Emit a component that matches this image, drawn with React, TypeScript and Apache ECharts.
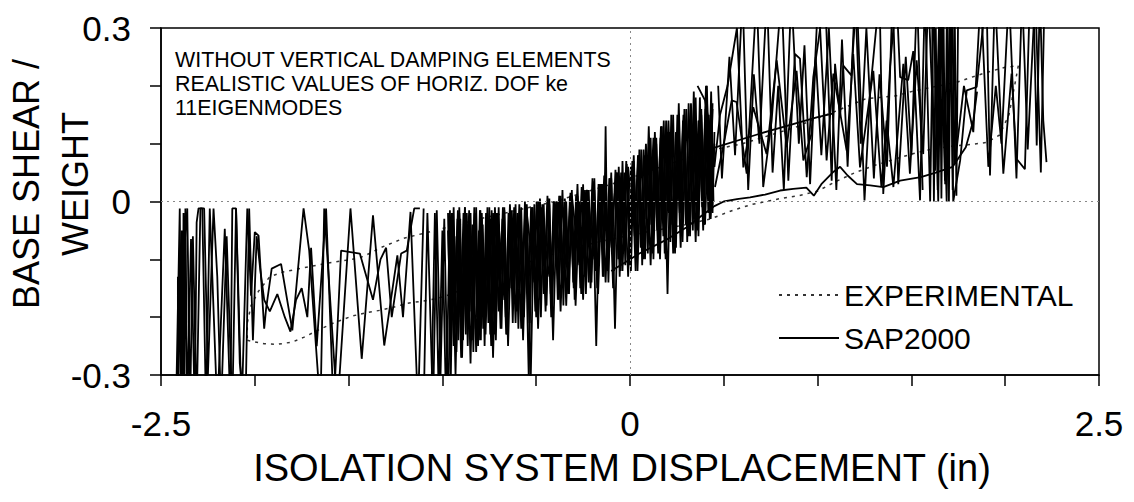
import React, { useEffect, useRef } from 'react';
import * as echarts from 'echarts';

const FONT = '"Liberation Sans", Arial, Helvetica, sans-serif';

const xTickLabels = ['-2.5', '0', '2.5'];
const yTickLabels = ['-0.3', '0', '0.3'];
const seriesNames = ['EXPERIMENTAL', 'SAP2000'];
const xAxisTitle = 'ISOLATION SYSTEM DISPLACEMENT (in)';
const yAxisTitle = ['BASE SHEAR /', 'WEIGHT'];
const noteLines = ['WITHOUT VERTICAL DAMPING ELEMENTS', 'REALISTIC VALUES OF HORIZ. DOF ke', '11EIGENMODES'];

// EXPERIMENTAL hysteresis loop (dotted)
const expLower = [
  [-2.04, -0.24], [-1.95, -0.246], [-1.88, -0.247], [-1.8, -0.243], [-1.74, -0.235], [-1.66, -0.222],
  [-1.58, -0.21], [-1.48, -0.198], [-1.4, -0.192], [-1.33, -0.188], [-1.25, -0.182], [-1.19, -0.176],
  [-1.1, -0.172], [-1.03, -0.168], [-0.95, -0.16], [-0.85, -0.145], [-0.7, -0.125], [-0.5, -0.1],
  [-0.3, -0.08], [-0.1, -0.065], [0.1, -0.052], [0.3, -0.04], [0.43, -0.03], [0.55, -0.015],
  [0.65, -0.005], [0.8, 0.005], [0.9, 0.01], [1.0, 0.018], [1.1, 0.035], [1.2, 0.05], [1.3, 0.062],
  [1.4, 0.072], [1.5, 0.082], [1.6, 0.09], [1.7, 0.095], [1.8, 0.098], [1.9, 0.102], [1.97, 0.115],
  [2.02, 0.15], [2.05, 0.2], [2.07, 0.235]
];
const expUpper = [
  [2.07, 0.235], [2.0, 0.232], [1.92, 0.225], [1.85, 0.218], [1.74, 0.206], [1.6, 0.197], [1.5, 0.19],
  [1.42, 0.183], [1.33, 0.18], [1.26, 0.178], [1.17, 0.166], [1.08, 0.154], [0.98, 0.142], [0.88, 0.128],
  [0.75, 0.115], [0.6, 0.1], [0.45, 0.09], [0.3, 0.075], [0.15, 0.058], [0.0, 0.04], [-0.2, 0.02],
  [-0.4, 0.0], [-0.6, -0.015], [-0.8, -0.03], [-0.98, -0.045], [-1.1, -0.055], [-1.21, -0.064],
  [-1.33, -0.08], [-1.42, -0.095], [-1.48, -0.1], [-1.62, -0.107], [-1.76, -0.116], [-1.85, -0.122],
  [-1.92, -0.13], [-1.98, -0.155], [-2.02, -0.18], [-2.04, -0.21], [-2.04, -0.24]
];

// SAP2000 traces (solid)
const sapLeftA = [
  [-1.1, -0.012], [-1.13, -0.36], [-1.17, -0.018], [-1.21, -0.2], [-1.24, -0.093], [-1.31, -0.249],
  [-1.37, -0.024], [-1.43, -0.272], [-1.49, -0.012], [-1.56, -0.36], [-1.63, -0.012], [-1.65, -0.36],
  [-1.71, -0.085], [-1.74, -0.012], [-1.8, -0.223], [-1.86, -0.108], [-1.91, -0.116], [-1.94, -0.186],
  [-1.95, -0.22], [-1.98, -0.059], [-2.0, -0.053], [-2.02, -0.163], [-2.04, -0.012], [-2.07, -0.36],
  [-2.1, -0.012], [-2.12, -0.012], [-2.13, -0.36], [-2.16, -0.047], [-2.2, -0.36], [-2.23, -0.099],
  [-2.24, -0.012], [-2.26, -0.36], [-2.28, -0.012], [-2.3, -0.012], [-2.31, -0.036], [-2.32, -0.36],
  [-2.34, -0.065], [-2.36, -0.36], [-2.37, -0.012], [-2.375, -0.36], [-2.38, -0.02], [-2.385, -0.36],
  [-2.39, -0.05], [-2.395, -0.36], [-2.4, -0.08], [-2.41, -0.36], [-2.41, -0.13]
];
const sapLeftB = [
  [-2.42, -0.36], [-2.4, -0.012], [-2.39, -0.36], [-2.38, -0.1], [-2.36, -0.012], [-2.345, -0.36],
  [-2.33, -0.06], [-2.31, -0.36], [-2.29, -0.012], [-2.27, -0.012], [-2.25, -0.3], [-2.22, -0.012],
  [-2.2, -0.13], [-2.18, -0.36], [-2.15, -0.06], [-2.12, -0.36], [-2.1, -0.012], [-2.08, -0.28],
  [-2.05, -0.36], [-2.03, -0.012], [-2.01, -0.24], [-1.99, -0.06], [-1.97, -0.12], [-1.95, -0.17],
  [-1.92, -0.19], [-1.88, -0.16], [-1.84, -0.2], [-1.81, -0.225], [-1.78, -0.17], [-1.75, -0.15],
  [-1.72, -0.2], [-1.7, -0.08], [-1.67, -0.25], [-1.62, -0.012], [-1.58, -0.36], [-1.54, -0.085],
  [-1.44, -0.09], [-1.37, -0.17], [-1.33, -0.1], [-1.3, -0.08], [-1.27, -0.2], [-1.22, -0.09],
  [-1.19, -0.085], [-1.15, -0.012], [-1.12, -0.012]
];
const sapBand1 = [
  [-1.06, -0.36], [-1.04, -0.02], [-1.02, -0.33], [-1.0, -0.05], [-0.98, -0.36], [-0.96, -0.015],
  [-0.94, -0.25], [-0.92, -0.03], [-0.9, -0.27], [-0.88, -0.01], [-0.86, -0.22], [-0.84, -0.04],
  [-0.82, -0.26], [-0.8, -0.015], [-0.78, -0.2], [-0.76, -0.02], [-0.74, -0.25], [-0.72, -0.01],
  [-0.7, -0.19], [-0.68, -0.03], [-0.66, -0.23], [-0.64, -0.005], [-0.62, -0.17], [-0.6, -0.02],
  [-0.58, -0.22], [-0.56, 0.0], [-0.54, -0.3], [-0.52, -0.01], [-0.5, -0.2], [-0.48, 0.005],
  [-0.46, -0.16], [-0.44, 0.01], [-0.42, -0.2], [-0.4, -0.005], [-0.38, -0.17], [-0.36, 0.02],
  [-0.34, -0.18], [-0.32, 0.01], [-0.3, -0.15], [-0.28, 0.03], [-0.26, -0.16], [-0.24, 0.02],
  [-0.22, -0.14], [-0.2, 0.04], [-0.18, -0.25], [-0.16, 0.03], [-0.14, -0.13], [-0.13, 0.13],
  [-0.12, -0.12], [-0.1, 0.05], [-0.08, -0.22], [-0.06, 0.06], [-0.04, -0.12], [-0.02, 0.07],
  [0.0, -0.11], [0.02, 0.08], [0.04, -0.12], [0.06, 0.09], [0.08, -0.1], [0.1, 0.13], [0.12, -0.09],
  [0.14, 0.11], [0.16, -0.1], [0.18, 0.14], [0.2, -0.16], [0.22, 0.15], [0.24, -0.09], [0.26, 0.17],
  [0.28, -0.07], [0.3, 0.16], [0.32, -0.06], [0.34, 0.19], [0.36, -0.05], [0.38, 0.16], [0.4, -0.04],
  [0.42, 0.15], [0.44, -0.02], [0.45, 0.12]
];
const sapBand2 = [
  [0.45, 0.1], [0.43, -0.03], [0.41, 0.18], [0.39, -0.05], [0.37, 0.14], [0.35, -0.07], [0.33, 0.13],
  [0.31, -0.06], [0.29, 0.12], [0.27, -0.08], [0.25, 0.11], [0.23, -0.09], [0.21, 0.12], [0.19, -0.1],
  [0.17, 0.1], [0.15, -0.09], [0.13, 0.09], [0.11, -0.11], [0.09, 0.08], [0.07, -0.1], [0.05, 0.07],
  [0.03, -0.12], [0.01, 0.06], [-0.01, -0.13], [-0.03, 0.05], [-0.05, -0.12], [-0.07, 0.04],
  [-0.09, -0.15], [-0.11, 0.04], [-0.13, -0.14], [-0.15, 0.03], [-0.17, -0.16], [-0.19, 0.02],
  [-0.21, -0.15], [-0.23, 0.01], [-0.25, -0.17], [-0.27, 0.0], [-0.29, -0.18], [-0.31, 0.005],
  [-0.33, -0.16], [-0.35, -0.01], [-0.37, -0.19], [-0.39, 0.0], [-0.41, -0.24], [-0.43, -0.005],
  [-0.45, -0.19], [-0.47, -0.01], [-0.49, -0.22], [-0.51, -0.005], [-0.53, -0.32], [-0.55, -0.01],
  [-0.57, -0.24], [-0.59, -0.005], [-0.61, -0.21], [-0.63, -0.015], [-0.65, -0.25], [-0.67, -0.01],
  [-0.69, -0.22], [-0.71, -0.02], [-0.73, -0.27], [-0.75, -0.01], [-0.77, -0.23], [-0.79, -0.03],
  [-0.81, -0.25], [-0.83, -0.01], [-0.85, -0.28], [-0.87, -0.02], [-0.89, -0.24], [-0.91, -0.01],
  [-0.93, -0.3], [-0.95, -0.02], [-0.97, -0.36], [-0.99, -0.03], [-1.01, -0.3], [-1.03, -0.015],
  [-1.05, -0.36], [-1.08, -0.02], [-1.1, -0.36]
];
const sapBand3 = [
  [-0.97, -0.05], [-0.955, -0.22], [-0.945, -0.04], [-0.935, -0.2], [-0.925, -0.06], [-0.915, -0.24],
  [-0.905, -0.03], [-0.895, -0.21], [-0.885, -0.05], [-0.875, -0.23], [-0.865, -0.04], [-0.855, -0.19],
  [-0.845, -0.06], [-0.835, -0.22], [-0.825, -0.03], [-0.815, -0.2], [-0.805, -0.05], [-0.795, -0.24],
  [-0.785, -0.04], [-0.775, -0.18], [-0.765, -0.06], [-0.755, -0.21], [-0.745, -0.03], [-0.735, -0.19],
  [-0.725, -0.05], [-0.715, -0.2], [-0.7, -0.04], [-0.67, -0.17], [-0.63, -0.03], [-0.59, -0.15],
  [-0.55, -0.02], [-0.51, -0.14], [-0.47, -0.03], [-0.43, -0.13], [-0.39, 0.0], [-0.35, -0.12],
  [-0.31, 0.01], [-0.27, -0.11], [-0.23, 0.02], [-0.19, -0.1], [-0.15, 0.03], [-0.11, -0.08],
  [-0.07, 0.05], [-0.03, -0.07], [0.005, 0.06], [0.025, -0.06], [0.045, 0.08], [0.065, -0.05],
  [0.085, 0.1], [0.105, -0.04], [0.125, 0.11], [0.145, -0.05], [0.165, 0.13], [0.185, -0.03],
  [0.205, 0.14], [0.225, -0.04], [0.245, 0.12], [0.265, -0.02], [0.285, 0.15], [0.305, -0.03],
  [0.325, 0.17], [0.345, -0.02], [0.365, 0.14], [0.385, -0.01], [0.405, 0.2], [0.425, -0.01], [0.44, 0.16]
];
const sapBand4 = [
  [0.44, 0.17], [0.425, -0.03], [0.41, 0.2], [0.395, -0.04], [0.38, 0.15], [0.365, -0.06], [0.35, 0.18],
  [0.335, -0.05], [0.32, 0.14], [0.305, -0.07], [0.29, 0.16], [0.275, -0.06], [0.26, 0.13], [0.245, -0.08],
  [0.23, 0.15], [0.215, -0.07], [0.2, 0.12], [0.185, -0.09], [0.17, 0.13], [0.155, -0.08], [0.14, 0.1],
  [0.125, -0.1], [0.11, 0.11], [0.095, -0.09], [0.08, 0.08], [0.065, -0.11], [0.05, 0.09], [0.035, -0.1],
  [0.02, 0.07], [0.005, -0.12], [-0.01, 0.06], [-0.025, -0.11], [-0.04, 0.07], [-0.055, -0.13],
  [-0.07, 0.05], [-0.085, -0.12], [-0.1, 0.04], [-0.115, -0.14], [-0.13, 0.05], [-0.145, -0.13],
  [-0.16, 0.03], [-0.175, -0.15], [-0.19, 0.04], [-0.205, -0.14], [-0.22, 0.02], [-0.235, -0.16],
  [-0.25, 0.03], [-0.265, -0.15], [-0.28, 0.01], [-0.295, -0.17], [-0.31, 0.02], [-0.325, -0.16],
  [-0.34, 0.0], [-0.355, -0.18], [-0.37, 0.01], [-0.385, -0.17], [-0.4, 0.0], [-0.415, -0.19],
  [-0.43, 0.005], [-0.445, -0.18], [-0.46, -0.005], [-0.475, -0.2], [-0.49, 0.0], [-0.505, -0.19],
  [-0.52, -0.01], [-0.535, -0.21], [-0.55, -0.005], [-0.565, -0.2], [-0.58, -0.01], [-0.595, -0.22],
  [-0.61, -0.005], [-0.625, -0.21], [-0.64, -0.01], [-0.655, -0.23], [-0.67, -0.015], [-0.685, -0.22],
  [-0.7, -0.01], [-0.715, -0.24], [-0.73, -0.02], [-0.745, -0.23], [-0.76, -0.01], [-0.775, -0.25],
  [-0.79, -0.02], [-0.805, -0.24], [-0.82, -0.01], [-0.835, -0.26], [-0.85, -0.02], [-0.865, -0.25],
  [-0.88, -0.01], [-0.895, -0.27], [-0.91, -0.02], [-0.925, -0.26], [-0.94, -0.01], [-0.955, -0.3],
  [-0.97, -0.02]
];
const sapBand5 = [
  [-0.9625, -0.12], [-0.9475, -0.02], [-0.9325, -0.18], [-0.9175, -0.015], [-0.9025, -0.2],
  [-0.8875, -0.02], [-0.8725, -0.16], [-0.8575, -0.015], [-0.8425, -0.24], [-0.8275, -0.02],
  [-0.8125, -0.19], [-0.7975, -0.015], [-0.7825, -0.22], [-0.7675, -0.02], [-0.7525, -0.17],
  [-0.7375, -0.015], [-0.7225, -0.23], [-0.7075, -0.02], [-0.6925, -0.16], [-0.6775, -0.01],
  [-0.6625, -0.2], [-0.6475, -0.02], [-0.6325, -0.15], [-0.6175, -0.01], [-0.6025, -0.19],
  [-0.5875, -0.015], [-0.5725, -0.14], [-0.5575, -0.005], [-0.5425, -0.18], [-0.5275, -0.01],
  [-0.5125, -0.13], [-0.4975, 0.0], [-0.4825, -0.17], [-0.4675, -0.005], [-0.4525, -0.12],
  [-0.4375, 0.005], [-0.4225, -0.16], [-0.4075, 0.0], [-0.3925, -0.11], [-0.3775, 0.01],
  [-0.3625, -0.15], [-0.3475, 0.005], [-0.3325, -0.1], [-0.3175, 0.015], [-0.3025, -0.14],
  [-0.2875, 0.01], [-0.2725, -0.09], [-0.2575, 0.025], [-0.2425, -0.13], [-0.2275, 0.02],
  [-0.2125, -0.08], [-0.1975, 0.035], [-0.1825, -0.12], [-0.1675, 0.03], [-0.1525, -0.07],
  [-0.1375, 0.045], [-0.1225, -0.11], [-0.1075, 0.04], [-0.0925, -0.06], [-0.0775, 0.055],
  [-0.0625, -0.1], [-0.0475, 0.05], [-0.0325, -0.05], [-0.0175, 0.065], [-0.0025, -0.09],
  [0.0125, 0.07], [0.0275, -0.04], [0.0425, 0.08], [0.0575, -0.08], [0.0725, 0.09], [0.0875, -0.03],
  [0.1025, 0.1], [0.1175, -0.07], [0.1325, 0.12], [0.1475, -0.02], [0.1625, 0.11], [0.1775, -0.06],
  [0.1925, 0.14], [0.2075, -0.02], [0.2225, 0.13], [0.2375, -0.05], [0.2525, 0.15], [0.2675, -0.01],
  [0.2825, 0.14], [0.2975, -0.04], [0.3125, 0.17], [0.3275, 0.0], [0.3425, 0.15], [0.3575, -0.03],
  [0.3725, 0.18], [0.3875, 0.01], [0.4025, 0.16], [0.4175, -0.02], [0.4325, 0.19], [0.445, 0.0]
];
const sapLowerBranch = [
  [-0.1, -0.12], [0.05, -0.09], [0.2, -0.065], [0.3, -0.045], [0.38, -0.025], [0.45, -0.008],
  [0.5, 0.0], [0.57, 0.004], [0.64, 0.007], [0.72, 0.012], [0.8, 0.019], [0.87, 0.022], [0.94, 0.024],
  [0.98, 0.01], [1.02, 0.03], [1.08, 0.05], [1.12, 0.06], [1.16, 0.045], [1.21, 0.03], [1.28, 0.028],
  [1.35, 0.025], [1.44, 0.036], [1.55, 0.042], [1.63, 0.05], [1.72, 0.06], [1.79, 0.094], [1.83, 0.14],
  [1.85, 0.19]
];
const sapUpperLine = [[0.42, 0.09], [0.7, 0.118], [1.0, 0.146], [1.08, 0.152]];
const sapRightA = [
  [0.453, 0.025], [0.506, 0.11], [0.542, 0.175], [0.568, 0.172], [0.622, 0.048], [0.675, 0.36],
  [0.71, 0.025], [0.755, 0.14], [0.808, 0.36], [0.844, 0.036], [0.879, 0.255], [0.906, 0.247],
  [0.942, 0.042], [0.977, 0.215], [1.04, 0.36], [1.075, 0.036], [1.093, 0.238], [1.12, 0.146],
  [1.137, 0.235], [1.18, 0.218], [1.208, 0.36], [1.25, 0.002], [1.28, 0.19], [1.33, 0.36],
  [1.35, 0.013], [1.386, 0.232], [1.42, 0.36], [1.44, 0.215], [1.483, 0.21], [1.51, 0.26],
  [1.546, 0.002], [1.572, 0.36], [1.6, 0.0], [1.617, 0.36], [1.643, 0.0], [1.66, 0.36], [1.688, 0.0],
  [1.705, 0.36], [1.723, 0.0], [1.76, 0.071], [1.795, 0.192], [1.848, 0.198], [1.9, 0.36],
  [1.919, 0.045], [1.945, 0.36], [1.99, 0.048], [2.034, 0.221], [2.06, 0.074], [2.105, 0.056],
  [2.132, 0.36], [2.15, 0.36], [2.168, 0.097], [2.185, 0.36], [2.203, 0.14], [2.22, 0.068]
];
const sapRightB = [
  [2.21, 0.36], [2.19, 0.05], [2.16, 0.36], [2.12, 0.09], [2.09, 0.36], [2.06, 0.04], [2.02, 0.36],
  [1.98, 0.1], [1.95, 0.2], [1.91, 0.06], [1.87, 0.36], [1.83, 0.12], [1.78, 0.2], [1.732, 0.065],
  [1.714, 0.36], [1.679, 0.036], [1.652, 0.36], [1.626, 0.053], [1.59, 0.36], [1.563, 0.082],
  [1.528, 0.244], [1.492, 0.048], [1.457, 0.238], [1.404, 0.025], [1.368, 0.14], [1.34, 0.025],
  [1.297, 0.226], [1.226, 0.059], [1.19, 0.255], [1.155, 0.088], [1.084, 0.221], [1.048, 0.071],
  [1.004, 0.36], [0.968, 0.117], [0.924, 0.071], [0.888, 0.226], [0.835, 0.094], [0.782, 0.244],
  [0.728, 0.082], [0.657, 0.163], [0.604, 0.059], [0.57, 0.3], [0.52, 0.2], [0.48, 0.15],
  [0.45, 0.06], [0.43, 0.12], [0.4, 0.175], [0.36, 0.2]
];
const sapRightC = [
  [1.75, 0.36], [1.74, 0.01], [1.73, 0.36], [1.72, 0.02], [1.71, 0.36], [1.7, 0.0], [1.69, 0.36],
  [1.68, 0.03], [1.67, 0.36], [1.66, 0.005], [1.65, 0.36], [1.64, 0.02], [1.63, 0.3], [1.62, 0.0],
  [1.61, 0.36]
];
const sapRightD = [
  [0.47, 0.2], [0.49, 0.04], [0.53, 0.25], [0.56, 0.08], [0.6, 0.36], [0.63, 0.02], [0.66, 0.22],
  [0.69, 0.1], [0.73, 0.36], [0.76, 0.05], [0.79, 0.2], [0.82, 0.02], [0.86, 0.36], [0.9, 0.1],
  [0.93, 0.27], [0.96, 0.03], [0.99, 0.25], [1.02, 0.08], [1.06, 0.3], [1.1, 0.02], [1.13, 0.28],
  [1.16, 0.06], [1.2, 0.36], [1.23, 0.1], [1.26, 0.3], [1.3, 0.04], [1.33, 0.22], [1.37, 0.06],
  [1.4, 0.36], [1.43, 0.03], [1.47, 0.25], [1.5, 0.08], [1.53, 0.36], [1.56, 0.02]
];

export default function App() {
  const ref = useRef<HTMLDivElement>(null);

  useEffect(() => {
    const chart = echarts.init(ref.current as HTMLDivElement, null, { renderer: 'svg' });
    const pick = (labels: string[]) => (v: number) => {
      const hit = labels.find((l) => Math.abs(parseFloat(l) - v) < 1e-6);
      return hit === undefined ? '' : hit;
    };
    const sapParts = [
      sapLeftA, sapLeftB, sapBand1, sapBand2, sapBand3, sapBand4, sapBand5,
      sapLowerBranch, sapUpperLine, sapRightA, sapRightB, sapRightC, sapRightD
    ];
    const sapSeries = sapParts.map((d) => ({
      name: seriesNames[1],
      type: 'line',
      data: d,
      symbol: 'none',
      showSymbol: false,
      clip: true,
      silent: true,
      lineStyle: { color: '#000', width: 1.8, type: 'solid' },
      itemStyle: { color: '#000' },
      z: 3
    }));
    const axisTextStyle = { fontFamily: FONT, fontSize: 35, color: '#000' };
    const titleStyle = { fontFamily: FONT, fontSize: 36, fill: '#000', align: 'center', verticalAlign: 'middle' };

    chart.setOption({
      animation: false,
      backgroundColor: '#fff',
      grid: { left: 161, top: 28, width: 938, height: 347, show: true, borderColor: '#000', borderWidth: 1.5, backgroundColor: 'transparent' },
      xAxis: {
        type: 'value', min: -2.5, max: 2.5, interval: 0.5,
        name: xAxisTitle, nameLocation: 'middle', nameGap: 74,
        nameTextStyle: { fontFamily: FONT, fontSize: 38, color: '#000', padding: [0, 16, 0, 0] },
        axisLine: { show: true, onZero: false, lineStyle: { color: '#000', width: 1.5 } },
        axisTick: { show: true, inside: false, length: 11, lineStyle: { color: '#000', width: 1.5 } },
        axisLabel: { show: true, margin: 31, formatter: pick(xTickLabels), showMinLabel: true, showMaxLabel: true, ...axisTextStyle },
        splitLine: { show: false }
      },
      yAxis: {
        type: 'value', min: -0.3, max: 0.3, interval: 0.1,
        axisLine: { show: true, onZero: false, lineStyle: { color: '#000', width: 1.5 } },
        axisTick: { show: true, inside: false, length: 11, lineStyle: { color: '#000', width: 1.5 } },
        axisLabel: { show: true, margin: 30, formatter: pick(yTickLabels), showMinLabel: true, showMaxLabel: true, ...axisTextStyle },
        splitLine: { show: false }
      },
      legend: {
        data: seriesNames,
        orient: 'vertical',
        left: 778, top: 280,
        padding: 0,
        itemWidth: 60, itemHeight: 30, itemGap: 13,
        selectedMode: false,
        itemStyle: { opacity: 0 },
        textStyle: { fontFamily: FONT, fontSize: 30, color: '#000' }
      },
      graphic: [
        {
          type: 'text', left: 175, top: 48, silent: true,
          style: { text: noteLines.join('\n'), fontFamily: FONT, fontSize: 21.4, lineHeight: 24, fill: '#000' }
        },
        {
          type: 'text', x: 26, y: 184, rotation: Math.PI / 2, silent: true,
          style: { text: yAxisTitle[0], ...titleStyle }
        },
        {
          type: 'text', x: 75, y: 184, rotation: Math.PI / 2, silent: true,
          style: { text: yAxisTitle[1], ...titleStyle }
        }
      ],
      series: [
        {
          name: seriesNames[0],
          type: 'line',
          data: [...expLower, ...expUpper],
          symbol: 'none',
          showSymbol: false,
          clip: true,
          silent: true,
          lineStyle: { color: '#333', width: 1.5, type: [3, 5] },
          itemStyle: { color: '#333' },
          z: 2,
          markLine: {
            silent: true,
            symbol: ['none', 'none'],
            label: { show: false },
            lineStyle: { color: '#888', width: 1, type: [2, 4] },
            data: [{ yAxis: 0 }, { xAxis: 0 }]
          }
        },
        ...sapSeries
      ]
    });
    return () => chart.dispose();
  }, []);

  return <div ref={ref} style={{ position: 'absolute', left: 0, top: 0, width: 1134, height: 502 }} />;
}
